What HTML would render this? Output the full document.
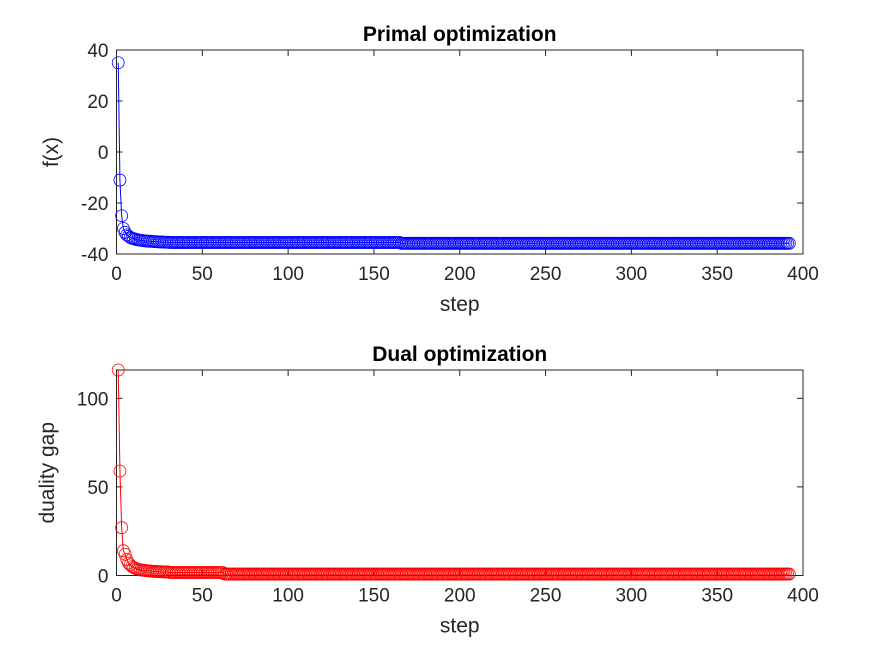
<!DOCTYPE html>
<html><head><meta charset="utf-8">
<style>
html,body{margin:0;padding:0;background:#fff;}
svg{display:block;font-family:"Liberation Sans",sans-serif;}
</style></head>
<body>
<svg id="fig" width="889" height="656" viewBox="0 0 889 656" xmlns="http://www.w3.org/2000/svg">
<rect width="889" height="656" fill="#fff"/>
<g id="top"></g>
<g id="bot"></g>
</svg>
<script>
// per-step readings for the first 30 steps
const headSteps = [1,2,3,4,5,6,7,8,9,10,11,12,13,14,15,16,17,18,19,20,21,22,23,24,25,26,27,28,29,30];
const primalHead = [35,-11,-25,-30,-31.5,-32.5,-33,-33.5,-33.8,-34,-34.2,-34.4,-34.5,-34.6,-34.7,-34.8,-34.9,-34.9,-35,-35,-35.1,-35.1,-35.2,-35.2,-35.3,-35.3,-35.3,-35.4,-35.4,-35.4];
const dualHead = [116,59,27,14,12,9,7,6,5,4.5,4,3.7,3.4,3.2,3,2.9,2.8,2.7,2.6,2.5,2.4,2.3,2.3,2.2,2.2,2.1,2.1,2,2,2];
// plateau segments (every step inside a segment holds the plateau reading)
const primalSegStart = [31,166];
const primalSegEnd = [165,392];
const primalSegVal = [-35.5,-35.8];
const dualSegStart = [31,63];
const dualSegEnd = [62,392];
const dualSegVal = [1.7,0.8];
const xTicks = [0,50,100,150,200,250,300,350,400];
const primalYTicks = [-40,-20,0,20,40];
const dualYTicks = [0,50,100];

const NS = "http://www.w3.org/2000/svg";
function mk(parent, tag, attrs, text){
  const e = document.createElementNS(NS, tag);
  for (const k in attrs) e.setAttribute(k, attrs[k]);
  if (text !== undefined) e.textContent = text;
  parent.appendChild(e);
  return e;
}
const TXT = "#262626";

function drawChart(g, o){
  const L=116.5, R=803, T=o.top, B=o.bottom;
  const sx = v => L + (v-0)/(400-0)*(R-L);
  const sy = v => B - (v-o.ymin)/(o.ymax-o.ymin)*(B-T);
  const frame = mk(g,'rect',{x:L,y:T,width:R-L,height:B-T,fill:'#fff',stroke:TXT,'stroke-width':1});
  
  
  xTicks.forEach(t=>{
    const x=sx(t);
    const tk = mk(g,'path',{d:`M${x},${B}V${B-6}M${x},${T}V${T+6}`,stroke:TXT,'stroke-width':1});
    
    
    const lb = mk(g,'text',{x:x,y:B+26,'text-anchor':'middle','font-size':19,fill:TXT},String(t));
    
    
  });
  o.yTicks.forEach(t=>{
    const y=sy(t);
    const tk = mk(g,'path',{d:`M${L},${y}H${L+6}M${R},${y}H${R-6}`,stroke:TXT,'stroke-width':1});
    
    
    const lb = mk(g,'text',{x:L-8,y:y+7,'text-anchor':'end','font-size':19,fill:TXT},String(t));
    
    
  });
  const steps = headSteps.slice();
  const vals = o.head.slice();
  o.segStart.forEach((s0,k)=>{
    for(let s=s0;s<=o.segEnd[k];s++){ steps.push(s); vals.push(o.segVal[k]); }
  });
  const d = steps.map((s,i)=>(i?'L':'M')+sx(s).toFixed(2)+','+sy(vals[i]).toFixed(2)).join('');
  const line = mk(g,'path',{d:d,fill:'none',stroke:o.color,'stroke-width':1});
  
  
  steps.forEach((s,i)=>{
    const c = mk(g,'circle',{cx:sx(s).toFixed(2),cy:sy(vals[i]).toFixed(2),r:6,fill:'none',stroke:o.color,'stroke-width':0.8});
    
    
  });
  const title = mk(g,'text',{x:(L+R)/2,y:T-9,'text-anchor':'middle','font-size':21,'font-weight':'bold',fill:'#000'},o.title);
  
  
  const xl = mk(g,'text',{x:(L+R)/2,y:B+57,'text-anchor':'middle','font-size':21,fill:TXT},'step');
  
  
  const yc=(T+B)/2;
  const yl = mk(g,'text',{x:o.ylx,y:yc,'text-anchor':'middle','font-size':21,fill:TXT,transform:`rotate(-90 ${o.ylx} ${yc})`},o.ylabel);
  
  
}

drawChart(document.getElementById('top'),{prefix:'primal',top:50,bottom:254,ymin:-40,ymax:40,yTicks:primalYTicks,head:primalHead,segStart:primalSegStart,segEnd:primalSegEnd,segVal:primalSegVal,color:'#0000ff',title:'Primal optimization',ylabel:'f(x)',ylx:58});
drawChart(document.getElementById('bot'),{prefix:'dual',top:370,bottom:575.5,ymin:0,ymax:116,yTicks:dualYTicks,head:dualHead,segStart:dualSegStart,segEnd:dualSegEnd,segVal:dualSegVal,color:'#ff0000',title:'Dual optimization',ylabel:'duality gap',ylx:54});
</script>
</body></html>
